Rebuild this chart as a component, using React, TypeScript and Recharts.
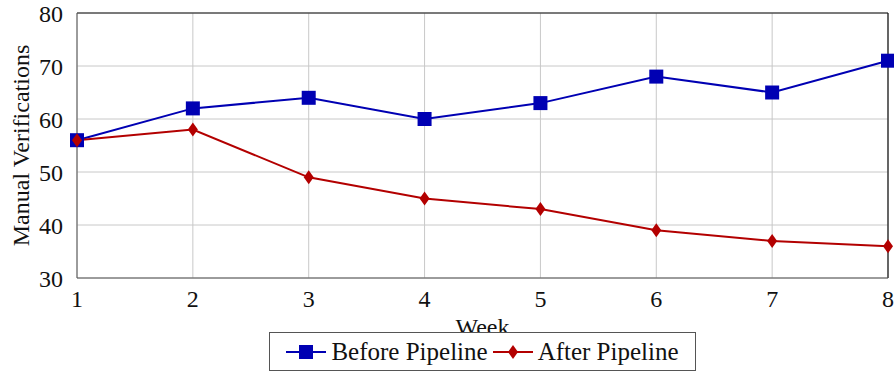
import { FC } from "react";
import {
  LineChart,
  Line,
  CartesianGrid,
  XAxis,
  YAxis,
  ReferenceLine,
} from "recharts";

const weeks = [1, 2, 3, 4, 5, 6, 7, 8];
const beforePipeline = [56, 62, 64, 60, 63, 68, 65, 71];
const afterPipeline = [56, 58, 49, 45, 43, 39, 37, 36];
const yTicks = [30, 40, 50, 60, 70, 80];

const BLUE = "#0000b3";
const RED = "#b30000";
const FONT = "'Liberation Serif', 'DejaVu Serif', serif";

const data = weeks.map((w, i) => ({
  week: w,
  before: beforePipeline[i],
  after: afterPipeline[i],
}));

const SquareDot = (props: any) => {
  const { cx, cy } = props;
  if (cx == null || cy == null) return null;
  return <rect x={cx - 7} y={cy - 7} width={14} height={14} fill={BLUE} />;
};

const DiamondDot = (props: any) => {
  const { cx, cy } = props;
  if (cx == null || cy == null) return null;
  return (
    <polygon
      points={`${cx},${cy - 7} ${cx + 5},${cy} ${cx},${cy + 7} ${cx - 5},${cy}`}
      fill={RED}
    />
  );
};

const LegendBox: FC = () => (
  <div
    style={{
      position: "absolute",
      left: 269,
      top: 332,
      width: 427,
      boxSizing: "border-box",
      border: "1px solid #555",
      background: "#fff",
      display: "flex",
      alignItems: "center",
      justifyContent: "center",
      height: 39,
      fontFamily: FONT,
      fontSize: 25,
      color: "#111",
      whiteSpace: "nowrap",
    }}
  >
    <svg width={40} height={20} style={{ marginRight: 5 }}>
      <line x1={0} y1={10} x2={40} y2={10} stroke={BLUE} strokeWidth={2} />
      <rect x={13} y={3} width={14} height={14} fill={BLUE} />
    </svg>
    <span style={{ marginRight: 5 }}>Before Pipeline</span>
    <svg width={40} height={20} style={{ marginRight: 5 }}>
      <line x1={0} y1={10} x2={40} y2={10} stroke={RED} strokeWidth={2} />
      <polygon points="20,3 25,10 20,17 15,10" fill={RED} />
    </svg>
    <span>After Pipeline</span>
  </div>
);

const App: FC = () => {
  return (
    <div style={{ position: "absolute", left: 0, top: 0, width: 894, height: 373 }}>
      <LineChart
        width={894}
        height={373}
        data={data}
        margin={{ top: 13, right: 6, bottom: 0, left: 0 }}
      >
        <CartesianGrid stroke="#c8c8c8" strokeWidth={1} />
        <XAxis
          dataKey="week"
          type="number"
          domain={[1, 8]}
          ticks={weeks}
          height={95}
          stroke="#555"
          tickLine={false}
          tickMargin={6}
          tick={{ fontFamily: FONT, fontSize: 24, fill: "#111" }}
          label={{
            value: "Week",
            position: "insideTop",
            offset: 40,
            style: { fontFamily: FONT, fontSize: 24, fill: "#111" },
          }}
        />
        <YAxis
          domain={[30, 80]}
          ticks={yTicks}
          width={77}
          stroke="#555"
          tickLine={false}
          tickMargin={8}
          tick={{ fontFamily: FONT, fontSize: 24, fill: "#111" }}
          label={{
            value: "Manual Verifications",
            angle: -90,
            position: "insideLeft",
            offset: 20,
            style: {
              fontFamily: FONT,
              fontSize: 24,
              fill: "#111",
              textAnchor: "middle",
            },
          }}
        />
        <ReferenceLine y={80} stroke="#111" strokeWidth={1.2} />
        <ReferenceLine x={8} stroke="#111" strokeWidth={1.2} />
        <Line
          dataKey="before"
          stroke={BLUE}
          strokeWidth={2}
          dot={<SquareDot />}
          activeDot={false}
          isAnimationActive={false}
        />
        <Line
          dataKey="after"
          stroke={RED}
          strokeWidth={2}
          dot={<DiamondDot />}
          activeDot={false}
          isAnimationActive={false}
        />
      </LineChart>
      <LegendBox />
    </div>
  );
};

export default App;
